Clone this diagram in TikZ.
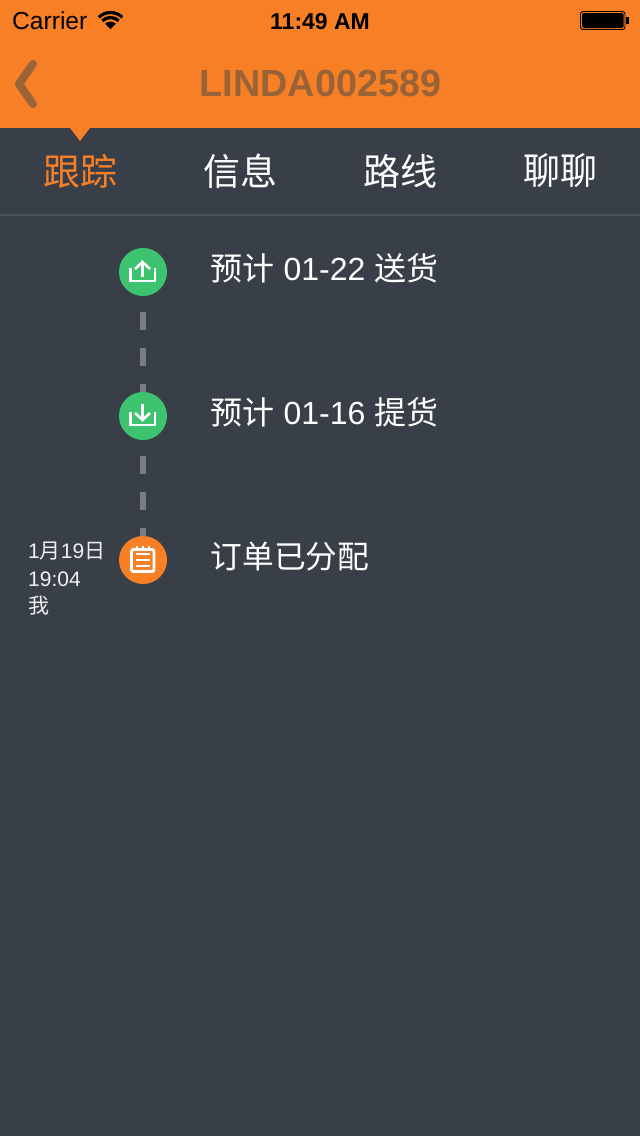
\documentclass[tikz,border=0pt]{standalone}
\usepackage{fontspec}
\setmainfont{Liberation Sans}
\newfontfamily\cjk{Noto Sans CJK SC}
\definecolor{pageback}{HTML}{393F48}
\definecolor{barorange}{HTML}{F78027}
\definecolor{titlebrown}{HTML}{996337}
\definecolor{dotgreen}{HTML}{3DC270}
\definecolor{dashgray}{HTML}{7A7D85}
\definecolor{rulegray}{HTML}{4D535C}
\tikzset{
  tabtext/.style={inner sep=0pt, font=\fontsize{37}{37}\selectfont\cjk, text=white},
  rowtext/.style={inner sep=0pt, anchor=base west, font=\fontsize{32}{32}\selectfont, text=white},
  sidetext/.style={inner sep=0pt, anchor=base west, font=\fontsize{21}{21}\selectfont, text=white!92!pageback},
  statustext/.style={inner sep=0pt, anchor=base west, text=black},
  stopdot/.style={circle, minimum size=48pt, inner sep=0pt},
  dashlink/.style={line width=6pt, draw=dashgray, dash pattern=on 18pt off 18pt, dash phase=20pt},
  iconline/.style={draw=white, line width=2.6pt, line join=miter}
}
\begin{document}
\begin{tikzpicture}[x=1pt, y=-1pt]

  % --- Page and header ---
  \fill[pageback] (0,0) rectangle (640,1136);
  \fill[barorange] (0,0) rectangle (640,128);
  \fill[barorange] (70,128) -- (90,128) -- (80,141) -- cycle;
  \fill[rulegray] (0,214) rectangle (640,216);

  % --- Status bar ---
  \node[statustext, font=\fontsize{24.6}{24}\selectfont] (carrier) at (12,29) {Carrier};
  \fill[black] (110.5,29) -- ++(-135:7.5) arc (-135:-45:7.5) -- cycle;
  \draw[black, line width=3.2pt] (110.5,29) ++(-135:11.5) arc (-135:-45:11.5);
  \draw[black, line width=3.2pt] (110.5,29) ++(-135:16.5) arc (-135:-45:16.5);
  \node[statustext, font=\fontsize{23}{24}\selectfont\bfseries] (clock) at (270,29) {11:49 AM};
  \draw[black, line width=.9pt, rounded corners=2.5pt] (580.5,11.5) rectangle (625,29.5);
  \fill[black, rounded corners=1.5pt] (582,13) rectangle (623.5,28);
  \fill[black] (626,17) rectangle (629,24);

  % --- Title and back chevron ---
  \draw[titlebrown, line width=8pt, line cap=round, line join=round]
    (33,64) -- (19,84) -- (33,104);
  \node[inner sep=0pt, anchor=base, font=\fontsize{37.8}{38}\selectfont\bfseries, text=titlebrown]
    (title) at (320.5,96) {LINDA002589};

  % --- Tabs ---
  \node[tabtext, text=barorange] (track) at (80,171) {跟踪};
  \node[tabtext] (info) at (240,171) {信息};
  \node[tabtext] (route) at (400,171) {路线};
  \node[tabtext] (chat) at (560,171) {聊聊};

  % --- Timeline stops ---
  \node[stopdot] (unload) at (143,272) {};
  \node[stopdot] (pickup) at (143,416) {};
  \node[stopdot] (order) at (143,560) {};
  \draw[dashlink] (unload.south) -- (pickup.north);
  \draw[dashlink] (pickup.south) -- (order.north);
  \fill[dotgreen] (unload.center) circle (24);
  \fill[dotgreen] (pickup.center) circle (24);
  \fill[barorange] (order.center) circle (24);

  % --- Upload icon ---
  \draw[iconline] (130.5,268) -- (130.5,281) -- (155,281) -- (155,268);
  \draw[iconline] (142.5,277) -- (142.5,263);
  \draw[iconline] (135,269) -- (142.5,262) -- (150,269);

  % --- Download icon ---
  \draw[iconline] (130.5,412) -- (130.5,425) -- (155,425) -- (155,412);
  \draw[iconline] (142.5,404) -- (142.5,419);
  \draw[iconline] (135,413) -- (142.5,420) -- (150,413);

  % --- Order icon ---
  \draw[white, line width=2.8pt, rounded corners=2pt] (131.5,549.5) rectangle (154,571.5);
  \foreach \tickx in {137,143,149}
    \draw[white, line width=2.4pt] (\tickx,546) -- (\tickx,549);
  \foreach \liney in {554,560,566}
    \draw[white, line width=2pt] (135.5,\liney) -- (150,\liney);

  % --- Row labels ---
  \node[rowtext] (unloadtext) at (210.5,280.5) {{\cjk 预计} 01-22 {\cjk 送货}};
  \node[rowtext] (pickuptext) at (210.5,424.5) {{\cjk 预计} 01-16 {\cjk 提货}};
  \node[rowtext, font=\fontsize{31.7}{32}\selectfont\cjk] (ordertext) at (210.5,568.5) {订单已分配};

  % --- Time stamp ---
  \node[sidetext] (stampdate) at (28,558) {1{\cjk 月}19{\cjk 日}};
  \node[sidetext] (stamptime) at (28,586) {19:04};
  \node[sidetext, font=\fontsize{21}{21}\selectfont\cjk] (stampwho) at (28,613) {我};

\end{tikzpicture}
\end{document}
